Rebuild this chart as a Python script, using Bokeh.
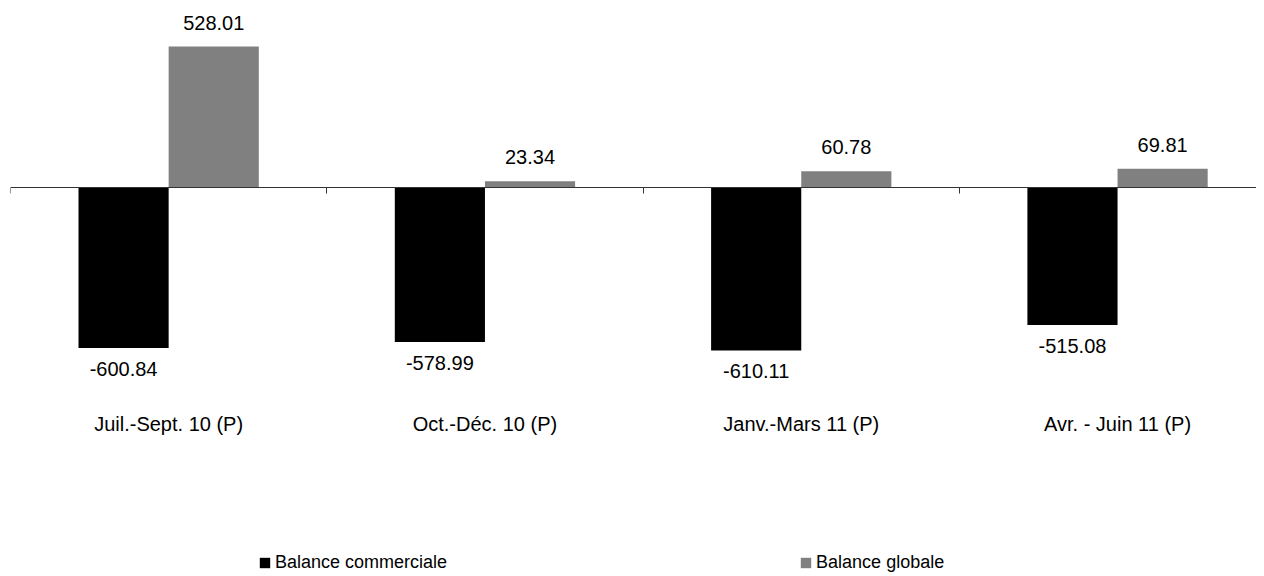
from bokeh.plotting import figure
from bokeh.models import (ColumnDataSource, Range1d, LinearAxis, FixedTicker,
                          Legend, LegendItem, Grid)
from bokeh.core.properties import value
from bokeh.embed import file_html
from bokeh.resources import INLINE

# ---- data ----
categories = ["Juil.-Sept. 10 (P)", "Oct.-Déc. 10 (P)", "Janv.-Mars 11 (P)", "Avr. - Juin 11 (P)"]
balance_commerciale = [-600.84, -578.99, -610.11, -515.08]
balance_globale = [528.01, 23.34, 60.78, 69.81]
series_names = ["Balance commerciale", "Balance globale"]
series_colors = ["#000000", "#808080"]

FONT = "Liberation Sans"
n = len(categories)
bar_w = 0.285
centers = [i + 0.5 for i in range(n)]
x_com = [c - bar_w / 2 for c in centers]
x_glo = [c + bar_w / 2 for c in centers]

p = figure(width=1256, height=574,
           x_range=Range1d(0, 3.9393), y_range=Range1d(-1449.3, 670.4),
           output_backend="svg", toolbar_location=None,
           x_axis_location=None, y_axis_location=None,
           min_border_left=10, min_border_right=0, min_border_top=8, min_border_bottom=0)
p.outline_line_color = None
p.background_fill_color = "white"
for g in p.select(type=Grid):
    g.visible = False

src_c = ColumnDataSource(dict(x=x_com, top=balance_commerciale))
src_g = ColumnDataSource(dict(x=x_glo, top=balance_globale))
r1 = p.vbar(x="x", top="top", bottom=0, width=bar_w, source=src_c,
            fill_color=series_colors[0], line_color=None)
r2 = p.vbar(x="x", top="top", bottom=0, width=bar_w, source=src_g,
            fill_color=series_colors[1], line_color=None)

# value labels
xs = x_com + x_glo
ys = balance_commerciale + balance_globale
lab_src = ColumnDataSource(dict(
    x=xs, y=ys,
    label=["%.2f" % v for v in ys],
    off=[-24 if v >= 0 else 21 for v in ys],
))
p.text(x="x", y="y", text="label", source=lab_src, y_offset="off",
       text_align="center", text_baseline="middle",
       text_font=value(FONT), text_font_size=value("20px"), text_color="#000000")

# zero axis with category boundary ticks
ax = LinearAxis(fixed_location=0, ticker=FixedTicker(ticks=list(range(n + 1))),
                major_label_overrides={i: "" for i in range(n + 1)},
                axis_line_color="#333333", axis_line_width=1,
                major_tick_line_color="#333333", major_tick_out=6, major_tick_in=0,
                minor_tick_line_color=None)
p.add_layout(ax, "below")

# category labels
ax2 = LinearAxis(fixed_location=0, ticker=FixedTicker(ticks=centers),
                 major_label_overrides={c: cat for c, cat in zip(centers, categories)},
                 axis_line_color=None, major_tick_line_color=None, minor_tick_line_color=None,
                 major_tick_out=0, major_tick_in=0, major_label_standoff=225,
                 major_label_text_font=FONT, major_label_text_font_size="20px",
                 major_label_text_color="#000000")
p.add_layout(ax2, "below")

legend = Legend(items=[LegendItem(label=series_names[0], renderers=[r1]),
                       LegendItem(label=series_names[1], renderers=[r2])],
                orientation="horizontal", location=(248, 1),
                glyph_width=13, glyph_height=13, label_standoff=4, spacing=352,
                padding=0, margin=0, border_line_color=None, background_fill_alpha=0,
                label_text_font=FONT, label_text_font_size="18px", label_height=20,
                label_text_color="#000000")
p.add_layout(legend)

open("out.html", "w").write(file_html(p, INLINE))
